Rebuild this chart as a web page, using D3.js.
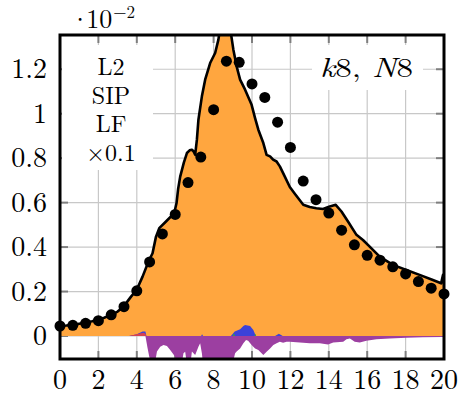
<!DOCTYPE html>
<html><head><meta charset="utf-8">
<script src="https://cdn.jsdelivr.net/npm/d3@7"></script>
<style>html,body{margin:0;padding:0;background:#fff;}svg{display:block;}</style>
</head><body>
<script>
// ---- data (units of 1e-2) ----
const xTicks = [0,2,4,6,8,10,12,14,16,18,20];
const yTicks = [0,0.2,0.4,0.6,0.8,1,1.2];
const yTickLabels = ["0","0.2","0.4","0.6","0.8","1","1.2"];

const totalX = [0,0.33,0.67,1.0,1.33,1.67,1.96,2.3,2.66,3.0,3.31,3.7,3.99,4.3,4.61,4.82,5.0,5.17,5.52,5.95,6.07,6.15,6.26,6.45,6.61,6.75,6.87,6.96,7.04,7.13,7.21,7.39,7.56,7.82,8.08,8.25,8.4,8.6,8.8,9.03,9.2,9.38,9.64,9.98,10.16,10.33,10.59,10.76,10.94,11.1,11.28,11.45,11.71,11.97,12.23,12.67,13.01,13.35,13.7,14.05,14.36,14.66,15.0,15.44,15.78,16.13,16.65,17.34,18.04,18.73,19.42,19.85,19.95,20];
const totalY = [0.045,0.047,0.05,0.055,0.06,0.066,0.072,0.082,0.095,0.11,0.132,0.177,0.207,0.267,0.335,0.372,0.447,0.485,0.515,0.553,0.598,0.66,0.717,0.78,0.823,0.835,0.838,0.83,0.815,0.883,0.973,1.078,1.153,1.228,1.273,1.333,1.42,1.47,1.42,1.288,1.213,1.153,1.108,1.04,0.98,0.928,0.868,0.815,0.808,0.793,0.785,0.763,0.717,0.67,0.64,0.59,0.58,0.575,0.571,0.583,0.59,0.56,0.515,0.455,0.432,0.402,0.357,0.32,0.297,0.275,0.252,0.237,0.275,0.232];

const negX = [4.45,4.55,4.65,4.75,4.95,5.05,5.22,5.39,5.57,5.74,6.0,6.1,6.35,6.43,6.52,6.6,6.8,6.87,7.04,7.21,7.3,7.39,7.44,9.0,9.12,9.2,9.38,9.55,9.69,9.8,9.98,10.16,10.33,10.5,10.59,10.76,10.94,11.11,11.28,11.45,11.62,11.8,11.97,12.49,13.01,13.53,13.96,14.23,14.75,14.92,15.1,15.35,15.61,15.96,16.48,17.17,18.04,18.9,19.93,20];
const negY = [0,-0.05,-0.093,-0.13,-0.12,-0.07,-0.048,-0.041,-0.045,-0.063,-0.093,-0.12,-0.12,-0.078,-0.071,-0.12,-0.12,-0.07,-0.086,-0.048,-0.033,-0.078,-0.12,-0.12,-0.078,-0.07,-0.056,-0.033,-0.018,-0.021,-0.041,-0.056,-0.063,-0.078,-0.086,-0.071,-0.056,-0.041,-0.033,-0.026,-0.03,-0.026,-0.026,-0.029,-0.033,-0.033,-0.038,-0.029,-0.026,-0.015,-0.011,-0.026,-0.029,-0.021,-0.015,-0.011,-0.008,-0.006,-0.004,-0.004];

const blueX = [3.6,4.0,4.3,4.45,4.5,7.35,7.4,7.45,8.9,9.0,9.1,9.38,9.55,9.64,9.9,10.07,10.2,11.2,11.4,11.6];
const blueY = [0,0.008,0.02,0.02,0,0,0.008,0,0,0.01,0.02,0.03,0.045,0.05,0.045,0.027,0,0,0.01,0];

const redX = [3.6,4.1,4.35,4.45,4.5];
const redY = [0,0.01,0.015,0.01,0];

const greenX = [9.0,9.05,9.12,10.12,10.18,10.22];
const greenY = [0,0.012,0,0,0.01,0];

const dotX = [0,0.667,1.333,2,2.667,3.333,4,4.667,5.333,6,6.667,7.333,8,8.667,9.333,10,10.667,11.333,12,12.667,13.333,14,14.667,15.333,16,16.667,17.333,18,18.667,19.333,20];
const dotY = [0.045,0.048,0.057,0.069,0.095,0.132,0.203,0.333,0.459,0.547,0.69,0.805,1.018,1.236,1.231,1.134,1.073,0.962,0.848,0.697,0.613,0.553,0.476,0.41,0.363,0.341,0.311,0.279,0.245,0.215,0.189];

const innerLabels = ["L2","SIP","LF","×0.1"];

// ---- layout ----
const W = 470, H = 400;
const L = 60, R = 444, T = 35, B = 359;
const x = d3.scaleLinear().domain([0,20]).range([L,R]);
const y = d3.scaleLinear().domain([-0.1035,1.354]).range([B,T]);
const FONT = '"Latin Modern Roman","Liberation Serif",serif';

const svg = d3.select("body").append("svg").attr("width",W).attr("height",H);
svg.append("rect").attr("width",W).attr("height",H).attr("fill","#fff");

svg.append("defs").append("clipPath").attr("id","clip")
  .append("rect").attr("x",L).attr("y",T).attr("width",R-L).attr("height",B-T);

// grid
const grid = svg.append("g").attr("stroke","#c8c8c8").attr("stroke-width",1.2);
grid.selectAll("line.v").data(xTicks.slice(1,-1)).join("line")
  .attr("x1",d=>x(d)).attr("x2",d=>x(d)).attr("y1",T).attr("y2",B);
grid.selectAll("line.h").data(yTicks).join("line")
  .attr("y1",d=>y(d)).attr("y2",d=>y(d)).attr("x1",L).attr("x2",R);

// ticks (inside)
const tk = svg.append("g").attr("stroke","#7f7f7f").attr("stroke-width",2);
const tl = 8;
tk.selectAll(null).data(xTicks.slice(1,-1)).join("line")
  .attr("x1",d=>x(d)).attr("x2",d=>x(d)).attr("y1",B).attr("y2",B-tl);
tk.selectAll(null).data(xTicks.slice(1,-1)).join("line")
  .attr("x1",d=>x(d)).attr("x2",d=>x(d)).attr("y1",T).attr("y2",T+tl);
tk.selectAll(null).data(yTicks).join("line")
  .attr("y1",d=>y(d)).attr("y2",d=>y(d)).attr("x1",L).attr("x2",L+tl);
tk.selectAll(null).data(yTicks).join("line")
  .attr("y1",d=>y(d)).attr("y2",d=>y(d)).attr("x1",R).attr("x2",R-tl);

// label boxes hiding grid
svg.append("rect").attr("x",62).attr("y",45).attr("width",91).attr("height",125).attr("fill","#fff");
svg.append("rect").attr("x",312).attr("y",45).attr("width",111).attr("height",45).attr("fill","#fff");

// data
const plot = svg.append("g").attr("clip-path","url(#clip)");
const zip = (xs,ys)=>xs.map((v,i)=>[v,ys[i]]);
const area = d3.area().x(d=>x(d[0])).y0(y(0)).y1(d=>y(d[1]));
const line = d3.line().x(d=>x(d[0])).y(d=>y(d[1]));

plot.append("path").datum(zip(totalX,totalY)).attr("d",area).attr("fill","#ffa63f");
plot.append("path").datum(zip(negX,negY)).attr("d",area).attr("fill","#9c3fa1");
plot.append("path").datum(zip(blueX,blueY)).attr("d",area).attr("fill","#3b42d9");
plot.append("path").datum(zip(redX,redY)).attr("d",area).attr("fill","#d9424e");
plot.append("path").datum(zip(greenX,greenY)).attr("d",area).attr("fill","#3aa33a");
plot.append("path").datum(zip(totalX,totalY)).attr("d",line)
  .attr("fill","none").attr("stroke","#000").attr("stroke-width",2.6).attr("stroke-linejoin","round");

svg.append("g").selectAll("circle").data(zip(dotX,dotY)).join("circle")
  .attr("cx",d=>x(d[0])).attr("cy",d=>y(d[1])).attr("r",5.5).attr("fill","#000");

// frame
svg.append("rect").attr("x",L).attr("y",T).attr("width",R-L).attr("height",B-T)
  .attr("fill","none").attr("stroke","#000").attr("stroke-width",3);

// tick labels
svg.append("g").selectAll("text").data(xTicks).join("text")
  .attr("x",d=>x(d)).attr("y",389).attr("text-anchor","middle")
  .style("font-family",FONT).style("font-size","28px").text(d=>d);
svg.append("g").selectAll("text").data(yTicks).join("text")
  .attr("x",47).attr("y",d=>y(d)+9).attr("text-anchor","end")
  .style("font-family",FONT).style("font-size","28px").text((d,i)=>yTickLabels[i]);

// exponent  ·10^-2 (single text element)
const ex = svg.append("text").attr("x",70).attr("y",28)
  .style("font-family",FONT).style("font-size","26px");
ex.append("tspan").text("·");
ex.append("tspan").attr("dx",-4).text("10");
ex.append("tspan").attr("dx",1).attr("dy",-10).style("font-size","17px").text("−2");

// inner labels
svg.append("g").selectAll("text").data(innerLabels).join("text")
  .attr("x",111).attr("y",(d,i)=>75+i*28.5).attr("text-anchor","middle")
  .style("font-family",FONT).style("font-size","24px").text(d=>d);

const kt = svg.append("text").attr("x",320).attr("y",77)
  .attr("textLength",93).attr("lengthAdjust","spacingAndGlyphs")
  .style("font-family",FONT).style("font-size","27px");
kt.append("tspan").style("font-style","italic").text("k");
kt.append("tspan").text("8, ");
kt.append("tspan").style("font-style","italic").text("N");
kt.append("tspan").text("8");
</script>
</body></html>
